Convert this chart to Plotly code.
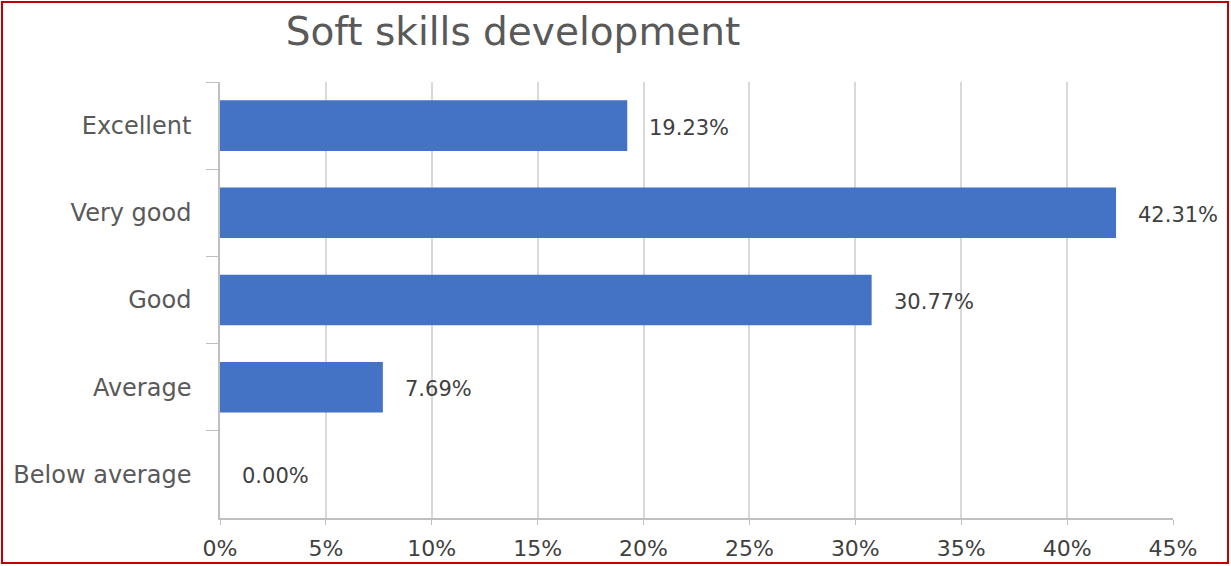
import plotly.graph_objects as go

categories = ["Excellent", "Very good", "Good", "Average", "Below average"]
values = [19.23, 42.31, 30.77, 7.69, 0.00]
labels = ["19.23%", "42.31%", "30.77%", "7.69%", "0.00%"]
x_ticks = [0, 5, 10, 15, 20, 25, 30, 35, 40, 45]
x_tick_text = [f"{v}%" for v in x_ticks]

FONT = "DejaVu Sans"
W, H = 1231, 566
L, R, T, B = 220, 58, 82, 48
pw, ph = W - L - R, H - T - B

fig = go.Figure()
fig.add_trace(go.Bar(
    y=categories, x=values, orientation="h",
    marker=dict(color="#4472C4", line=dict(width=0)),
    width=0.58, hoverinfo="skip",
))

for c, v, t in zip(categories, values, labels):
    fig.add_annotation(x=v, y=c, xref="x", yref="y", text=t, showarrow=False,
                       xanchor="left", yanchor="middle", xshift=20, yshift=-2,
                       font=dict(family=FONT, size=21, color="#404040"))

def px_x(p):
    return (p - L) / pw

def px_y(p):
    return (H - B - p) / ph

fig.add_shape(type="rect", xref="paper", yref="paper",
              x0=px_x(2), x1=px_x(1228), y0=px_y(563), y1=px_y(2),
              line=dict(color="#C00000", width=2), fillcolor="rgba(0,0,0,0)", layer="above")

fig.update_layout(
    width=W, height=H, autosize=False,
    margin=dict(l=L, r=R, t=T, b=B, autoexpand=False),
    paper_bgcolor="white", plot_bgcolor="white",
    showlegend=False,
    title=dict(text="Soft skills development", x=px_x(513), xref="paper", xanchor="center",
               y=1 - 31 / H, yref="container", yanchor="middle",
               font=dict(family=FONT, size=39, color="#595959")),
    font=dict(family=FONT, color="#595959"),
    xaxis=dict(range=[0, 45], tickvals=x_ticks, ticktext=x_tick_text, automargin=False,
               showgrid=True, gridcolor="#D9D9D9", gridwidth=1.5,
               zeroline=False, showline=True, linecolor="#BFBFBF", linewidth=1.5,
               ticks="outside", ticklen=5, tickcolor="#BFBFBF",
               ticklabelstandoff=5,
               tickfont=dict(family=FONT, size=22, color="#404040")),
    yaxis=dict(categoryorder="array", categoryarray=categories, autorange="reversed",
               automargin=False,
               showgrid=False, zeroline=False, showline=True, linecolor="#BFBFBF", linewidth=1.5,
               ticks="outside", ticklen=12, tickcolor="#BFBFBF", tickson="boundaries",
               ticklabelstandoff=22,
               tickfont=dict(family=FONT, size=24, color="#595959")),
)

fig.write_html("out.html", config={"displayModeBar": False},
               post_script="document.body.style.margin='0';document.body.style.overflow='hidden';")
